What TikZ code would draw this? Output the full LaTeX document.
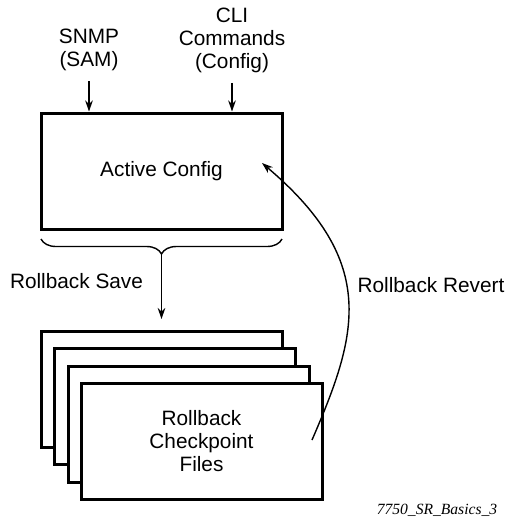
\documentclass[tikz,border=0pt]{standalone}
\usepackage{fontspec}
\setmainfont{Liberation Sans}
\newfontfamily\capfont{Liberation Serif}
\usetikzlibrary{arrows.meta,decorations.pathreplacing}
\begin{document}
\begin{tikzpicture}[x=0.5pt,y=-0.5pt,
  txt/.style={font=\fontsize{10.4pt}{11.5pt}\selectfont, align=center, inner sep=0pt},
  cfgbox/.style={draw, line width=1.5pt, fill=white, minimum width=120.5pt, minimum height=58pt, inner sep=0pt, txt},
  arr/.style={line width=0.7pt, -{Stealth[length=5.5pt,width=3.8pt]}},
  brc/.style={line width=0.7pt, decorate, decoration={brace, amplitude=7.5pt, aspect=0.5}}]
\useasboundingbox (0,0) rectangle (507,520);
% inputs
\node[txt] (snmp) at (89,50) {SNMP\\(SAM)};
\node[txt] (cli) at (232,40) {CLI\\Commands\\(Config)};
% active config
\node[cfgbox] (active) at (161.5,171) {Active Config};
\draw[arr] ([yshift=-5pt]snmp.south) -- (snmp.south |- active.north);
\draw[arr] ([yshift=-5pt]cli.south) -- (cli.south |- active.north);
% brace
\coordinate (bl) at (41,239);
\coordinate (br) at (282,239);
\coordinate (btip) at (161.5,253);
\coordinate (save) at (161.5,319);
\draw[brc] (br) -- (bl);
\draw[arr] (btip) -- (save);
\node[txt] (savelbl) at (76.5,281) {Rollback Save};
% checkpoint stack
\node[cfgbox] (f1) at (161.5,389) {};
\node[cfgbox] (f2) at (175,406.5) {};
\node[cfgbox] (f3) at (188.5,424) {};
\node[cfgbox] (f4) at (201.5,441) {Rollback\\Checkpoint\\Files};
% revert
\coordinate (rvs) at (312,440);
\coordinate (rve) at (262,163);
\draw[arr] (rvs) .. controls (357,336) and (380,263) .. (rve);
\node[txt] (revlbl) at (431,285) {Rollback Revert};
% caption
\node[font=\capfont\itshape\fontsize{7.8pt}{9pt}\selectfont, inner sep=0pt] (cap) at (437,510) {7750\_SR\_Basics\_3};
\end{tikzpicture}
\end{document}
